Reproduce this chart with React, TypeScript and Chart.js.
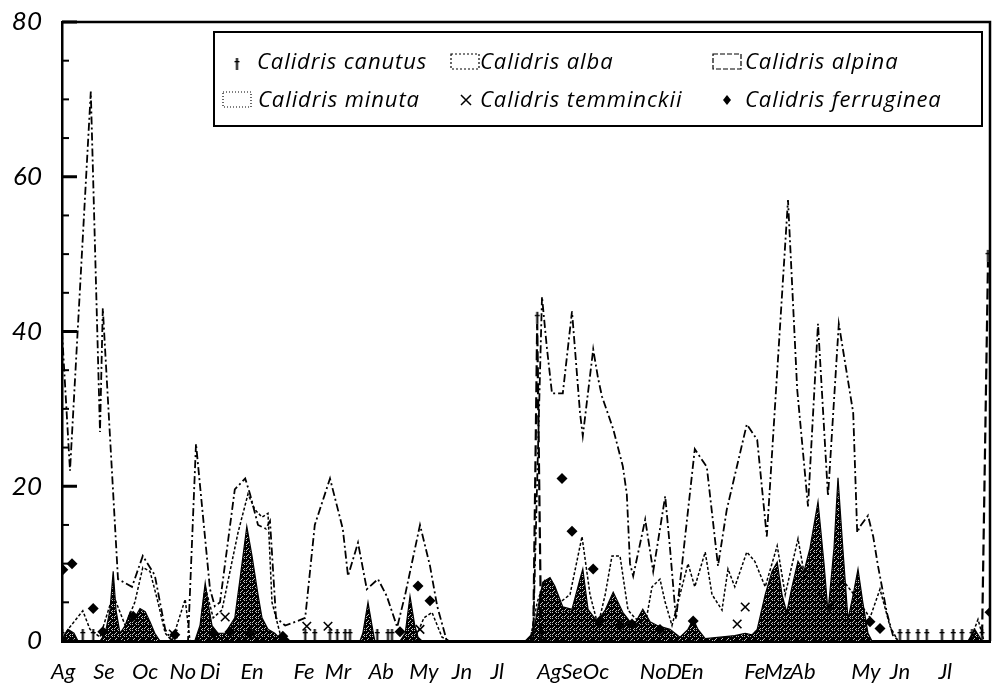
import React, { useEffect, useRef } from 'react';
import { Chart, registerables } from 'chart.js';

Chart.register(...registerables);

// Sampling index runs over two seasons (August to July, twice).
const monthPos = [0.15, 5.25, 10.4, 15.1, 18.5, 23.75, 30.25, 34.5, 39.9, 45.25, 50, 54.4,
  60.9, 63.75, 66.75, 73.9, 76.5, 78.75, 86.6, 89.5, 92.6, 100.5, 104.75, 110.4];
const monthLabels = ['Ag', 'Se', 'Oc', 'No', 'Di', 'En', 'Fe', 'Mr', 'Ab', 'My', 'Jn', 'Jl',
  'Ag', 'Se', 'Oc', 'No', 'D', 'En', 'Fe', 'Mz', 'Ab', 'My', 'Jn', 'Jl'];
const yTicks = [0, 20, 40, 60, 80];
const yMinorStep = 5;

type P = [number, number];

const canutus: P[] = [[0, 0], [2.6, 0], [3.9, 0], [30.4, 0], [31.6, 0], [33.5, 0], [34.4, 0], [35.4, 0],
  [36, 0], [39.4, 0], [40.75, 0], [41.25, 0], [58.9, 0], [59.4, 41], [59.9, 0], [104.75, 0],
  [105.75, 0], [107, 0], [108.1, 0], [110, 0], [111.4, 0], [112.5, 0], [113.75, 0], [115, 0], [115.75, 49]];

const alba: P[] = [[0, 0], [0.75, 1.5], [2.6, 3.9], [3.5, 1.5], [4.75, 0.5], [6.4, 6], [7.9, 2], [9.1, 5],
  [10.1, 9.5], [11, 9], [12, 5], [12.9, 1], [13.75, 0], [15.4, 5.4], [16, 0], [17.1, 0], [17.9, 7],
  [18.9, 3], [20, 4], [22, 14], [23.25, 19], [24.1, 17], [25, 16], [25.75, 16.5], [26.25, 5], [27.25, 1],
  [28.5, 0], [44, 0], [45.25, 3], [46.25, 3.7], [47.5, 0.5], [48.5, 0], [58.5, 0],
  [59.4, 5], [60.4, 8], [61.25, 7.5], [62.25, 5], [63.5, 6], [64.5, 11], [65, 13.5], [66, 6], [67, 2],
  [67.9, 6], [68.75, 11], [69.75, 11], [70.75, 4], [71.6, 3], [72.9, 2], [73.75, 7], [74.75, 8],
  [75.4, 5], [76.25, 2], [77.25, 6], [78.25, 10], [79.1, 7], [80.4, 11.5], [81.25, 6], [82.5, 4],
  [83.25, 9.3], [84.1, 7], [85.6, 11.5], [86.6, 10.3], [87.9, 7], [89.4, 12.3], [90.4, 6], [92, 13.2],
  [92.9, 8], [93.75, 10], [94.75, 6], [96, 4], [97.5, 8], [99, 6], [101, 3], [102.25, 6.7], [103.5, 1.9],
  [104.5, 0], [113.5, 0], [114.5, 2.8], [115.25, 0], [116, 0]];

const alpina: P[] = [[0, 40], [1, 22], [3.6, 71], [4.75, 27], [5.1, 43], [7, 8], [8.75, 7], [10.1, 11],
  [11.6, 8.5], [12.9, 1.5], [13.75, 0], [15.75, 0], [16.75, 25.5], [18.5, 6.7], [19.1, 4.5], [19.75, 5],
  [21.6, 19.6], [22.9, 21], [23.5, 19], [24.5, 15], [25.5, 14.5], [26, 15.5], [26.75, 3], [27.9, 2],
  [29.25, 2.5], [30.4, 3], [31.6, 15], [33.5, 21], [35.1, 14.5], [35.75, 8.4], [37, 12.7], [38.1, 6.7],
  [39.5, 8], [40.6, 5.8], [41.9, 1.8], [42.9, 6], [44.75, 15], [46, 9.7], [46.9, 4.5], [48.1, 0], [58, 0],
  [58.9, 1], [60, 44.5], [60.6, 38], [61.25, 32], [62.6, 32], [63.75, 42.6], [64.75, 29.5], [65.1, 26.5],
  [66.4, 37.7], [67, 34], [67.5, 31.6], [68.9, 27.4], [70.1, 22.6], [70.6, 19], [71, 10], [71.4, 8.4],
  [72.9, 15.7], [73.9, 9], [75.4, 18.7], [76, 12], [76.75, 2.8], [79.1, 24.8], [80.6, 22.5], [82, 9.7],
  [83.1, 17], [85.6, 28], [86.9, 26], [88.1, 13.5], [90.75, 57], [91.9, 32.5], [93.25, 17.4], [94.5, 41],
  [95.75, 18.7], [97.1, 41], [98.9, 29.5], [99.4, 14], [99.75, 14.8], [100.75, 16.2], [101.4, 13.5],
  [102, 9.7], [103.1, 3.7], [103.9, 0.6], [104.75, 0], [116, 0]];

const minuta: P[] = [[0, 0], [0.4, 1], [0.75, 1.5], [1.5, 1], [2, 0], [4.75, 0], [5.4, 1], [6, 4], [6.4, 9],
  [6.75, 4], [7.25, 1], [7.9, 2], [8.5, 3.7], [9.1, 3], [9.75, 4.2], [10.4, 3.8], [11, 2.5], [11.6, 1],
  [12.25, 0], [16.6, 0], [17.25, 2], [17.9, 7.5], [18.25, 5], [18.75, 2], [19.5, 1], [20.4, 1], [21.6, 3],
  [22.25, 8], [23.1, 14.8], [23.75, 11], [24.5, 6], [25, 3], [25.75, 1.5], [26.6, 1], [27.25, 0.3],
  [27.9, 0.6], [28.5, 0], [37.25, 0], [37.6, 1], [38.25, 5], [38.75, 2], [39.1, 0], [42.25, 0], [42.9, 1],
  [43.5, 5.8], [44.1, 2], [44.5, 0.5], [45, 0], [57.9, 0], [58.9, 1], [60.1, 7.6], [61, 8.2], [61.6, 7.1],
  [62.6, 4.4], [63.75, 4.1], [64.75, 8], [65.1, 9.3], [65.75, 4.1], [66.9, 2.5], [67.9, 4], [68.9, 6.3],
  [69.5, 5], [70.1, 3.7], [71, 2.5], [71.75, 2.5], [72.6, 4.1], [73.5, 2.5], [74.4, 2], [76, 1.5],
  [77.25, 0.5], [78.25, 1.5], [78.9, 2.8], [79.5, 1.5], [80.4, 0.3], [82.25, 0.5], [84.1, 0.7], [85.4, 1],
  [86.25, 0.8], [86.9, 1.5], [87.9, 6], [88.75, 9], [89.4, 10.2], [90, 6], [90.6, 3.7], [91.25, 7],
  [92, 10.3], [92.75, 9], [93.5, 12], [94.5, 18], [95.25, 10], [95.75, 3.7], [96.5, 12], [97, 21.1],
  [97.6, 12], [98.25, 2.8], [98.9, 6], [99.5, 9.3], [100.1, 5], [100.75, 1], [101.25, 0], [113.25, 0],
  [114.1, 1.5], [115, 0], [116, 0]];

const temminckii: P[] = [[13.9, 0.9], [20.4, 3.1], [30.6, 1.9], [33.25, 1.9], [44.75, 1.5], [84.4, 2.2], [85.4, 4.4]];

const ferruginea: P[] = [[0.1, 9.2], [1.25, 10], [3.9, 4.2], [5.1, 1.2], [8.9, 3.2], [14.1, 0.8], [18.9, 1],
  [21, 1.2], [23.5, 1], [27.6, 0.6], [42.25, 1.2], [44.5, 7.1], [46, 5.2], [62.5, 21], [63.75, 14.2],
  [66.4, 9.3], [67.25, 2.6], [69.75, 2], [71.25, 2.2], [74.75, 1.5], [78.9, 2.6], [101, 2.5], [102.25, 1.6],
  [116, 3.7]];

const FONT = "Lato, 'Open Sans', 'DejaVu Sans', sans-serif";
const LEGEND_FONT = "'Open Sans', 'Noto Sans', 'DejaVu Sans', sans-serif";

const xy = (pts: P[]) => pts.map(([x, y]) => ({ x, y }));

function plusMarker(): HTMLCanvasElement {
  const c = document.createElement('canvas');
  c.width = 9;
  c.height = 26;
  const g = c.getContext('2d')!;
  g.fillStyle = '#000';
  g.fillRect(3.5, 1, 2, 12);
  g.fillRect(2, 4, 5, 1.3);
  return c;
}

function stipple(ctx: CanvasRenderingContext2D): CanvasPattern {
  const t = document.createElement('canvas');
  t.width = 6;
  t.height = 6;
  const g = t.getContext('2d')!;
  g.fillStyle = '#000';
  g.fillRect(0, 0, 6, 6);
  g.fillStyle = '#c8c8c8';
  g.fillRect(0, 0, 1, 1);
  g.fillRect(2, 2, 1, 1);
  g.fillRect(4, 0, 1, 1);
  g.fillRect(0, 4, 1, 1);
  g.fillRect(4, 4, 1, 1);
  g.fillRect(3, 5, 1, 1);
  g.fillRect(1, 3, 1, 1);
  return ctx.createPattern(t, 'repeat')!;
}

// invisible tick marks: they only space the labels off the axis
const hiddenTicks = (len: number) => ({
  display: true, drawOnChartArea: false, drawTicks: true, tickLength: len, color: 'rgba(0,0,0,0)',
});

export default function App() {
  const ref = useRef<HTMLCanvasElement>(null);

  useEffect(() => {
    const canvas = ref.current!;
    const plus = plusMarker();
    const pattern = stipple(canvas.getContext('2d')!);

    // legend symbols, in dataset order
    const legendSlots = [
      { kind: 'plus', sx: 237, tx: 257, y: 62 },
      { kind: 'box', dash: [2, 2], bx: 451, tx: 480, y: 62 },
      { kind: 'box', dash: [5, 2], bx: 713, tx: 745, y: 62 },
      { kind: 'box', dash: [1, 2], bx: 223, tx: 258, y: 100 },
      { kind: 'cross', sx: 466, tx: 480, y: 100 },
      { kind: 'diamond', sx: 727, tx: 745, y: 100 },
    ];

    const decor = {
      id: 'decor',
      afterDraw(chart: any) {
        const { ctx, chartArea: a, scales } = chart;
        const y = scales.y;
        ctx.save();
        ctx.strokeStyle = '#000';
        ctx.setLineDash([]);
        // inward tick marks on the value axis
        for (let v = yTicks[0]; v <= yTicks[yTicks.length - 1]; v += yMinorStep) {
          const py = y.getPixelForValue(v);
          const major = yTicks.includes(v);
          ctx.lineWidth = major ? 3 : 2;
          ctx.beginPath();
          ctx.moveTo(a.left, py);
          ctx.lineTo(a.left + (major ? 15 : 7), py);
          ctx.stroke();
        }
        // frame top and right
        ctx.lineWidth = 2.5;
        ctx.beginPath();
        ctx.moveTo(a.left, a.top);
        ctx.lineTo(a.right, a.top);
        ctx.lineTo(a.right, a.bottom);
        ctx.stroke();

        // legend box
        ctx.fillStyle = '#fff';
        ctx.fillRect(214, 32, 768, 94);
        ctx.lineWidth = 2;
        ctx.strokeRect(214, 32, 768, 94);

        ctx.font = `italic 22px ${LEGEND_FONT}`;
        (ctx as any).letterSpacing = '0.9px';
        ctx.textBaseline = 'middle';
        ctx.textAlign = 'left';
        chart.data.datasets.forEach((ds: any, i: number) => {
          const s: any = legendSlots[i];
          ctx.fillStyle = '#000';
          ctx.strokeStyle = '#000';
          if (s.kind === 'plus') {
            ctx.drawImage(plus, s.sx - 4.5, s.y - 5);
          } else if (s.kind === 'box') {
            ctx.lineWidth = 1.2;
            ctx.setLineDash(s.dash);
            ctx.strokeRect(s.bx, s.y - 8, 28, 15);
            ctx.setLineDash([]);
          } else if (s.kind === 'cross') {
            ctx.lineWidth = 1.5;
            ctx.beginPath();
            ctx.moveTo(s.sx - 5, s.y - 5); ctx.lineTo(s.sx + 5, s.y + 5);
            ctx.moveTo(s.sx + 5, s.y - 5); ctx.lineTo(s.sx - 5, s.y + 5);
            ctx.stroke();
          } else if (s.kind === 'diamond') {
            ctx.beginPath();
            ctx.moveTo(s.sx, s.y - 5); ctx.lineTo(s.sx + 4, s.y);
            ctx.lineTo(s.sx, s.y + 5); ctx.lineTo(s.sx - 4, s.y);
            ctx.closePath();
            ctx.fill();
          }
          ctx.fillText(ds.label, s.tx, s.y + 1);
        });
        ctx.restore();
      },
    };

    const chart = new Chart(canvas, {
      type: 'line',
      data: {
        datasets: [
          {
            label: 'Calidris canutus', data: xy(canutus), borderColor: '#000', borderWidth: 2.2,
            borderDash: [11, 5], pointStyle: plus as any, pointRadius: 5, order: 4, fill: false,
          },
          {
            label: 'Calidris alba', data: xy(alba), borderColor: '#000', borderWidth: 1.5,
            borderDash: [3, 2], pointRadius: 0, order: 6, fill: false,
          },
          {
            label: 'Calidris alpina', data: xy(alpina), borderColor: '#000', borderWidth: 1.8,
            borderDash: [8, 3, 2, 3], pointRadius: 0, order: 5, fill: false,
          },
          {
            label: 'Calidris minuta', data: xy(minuta), borderColor: '#000', borderWidth: 1.2,
            backgroundColor: pattern, pointRadius: 0, order: 10, fill: 'origin',
          },
          {
            label: 'Calidris temminckii', data: xy(temminckii), showLine: false, pointStyle: 'crossRot',
            pointRadius: 6, pointBorderWidth: 1.6, borderColor: '#000', backgroundColor: '#000', order: 1,
          },
          {
            label: 'Calidris ferruginea', data: xy(ferruginea), showLine: false, pointStyle: 'rectRot',
            pointRadius: 5.5, pointBorderWidth: 0, borderColor: '#000', backgroundColor: '#000', order: 1,
          },
        ] as any,
      },
      options: {
        responsive: false,
        animation: false,
        devicePixelRatio: 1,
        events: [],
        layout: { autoPadding: false, padding: { top: 22, right: 4, left: 0, bottom: 0 } },
        plugins: { legend: { display: false }, tooltip: { enabled: false } },
        scales: {
          x: {
            type: 'linear', min: 0, max: 116,
            afterBuildTicks: (s: any) => { s.ticks = monthPos.map((value) => ({ value })); },
            afterFit: (s: any) => { s.height = 50; },
            ticks: {
              autoSkip: false, maxRotation: 0, padding: 2, color: '#000',
              font: { family: FONT, size: 22, style: 'italic' },
              callback: (_v: any, i: number) => monthLabels[i],
            },
            grid: hiddenTicks(16),
            border: { display: true, color: '#000', width: 3 },
          },
          y: {
            type: 'linear', min: 0, max: 80,
            afterBuildTicks: (s: any) => { s.ticks = yTicks.map((value) => ({ value })); },
            afterFit: (s: any) => { s.width = 62; },
            ticks: {
              padding: 2, color: '#000',
              font: { family: FONT, size: 26, style: 'italic' },
              callback: (v: any) => String(v),
            },
            grid: hiddenTicks(18),
            border: { display: true, color: '#000', width: 2.5 },
          },
        },
      } as any,
      plugins: [decor],
    });
    return () => chart.destroy();
  }, []);

  return (
    <div style={{ position: 'absolute', left: 0, top: 0, width: 994, height: 691, background: '#fff' }}>
      <canvas ref={ref} width={994} height={691} style={{ display: 'block' }} />
    </div>
  );
}
